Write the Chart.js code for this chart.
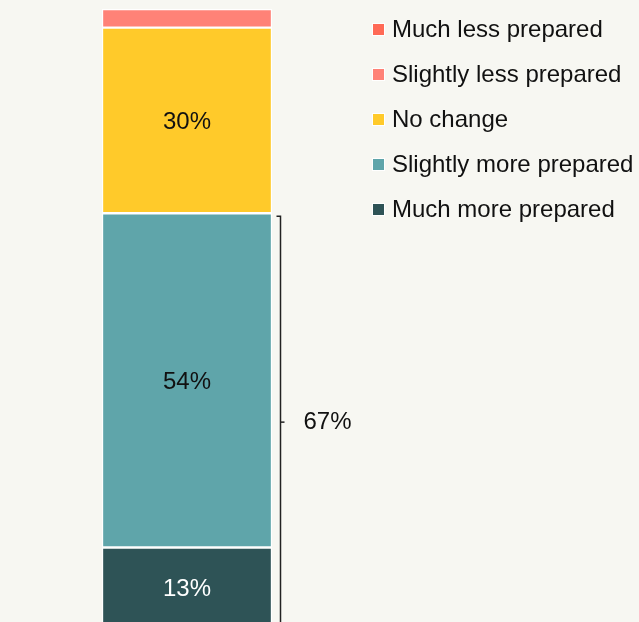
<!DOCTYPE html>
<html>
<head>
<meta charset="utf-8">
<script src="https://cdn.jsdelivr.net/npm/chart.js@4/dist/chart.umd.min.js"></script>
<style>
  html, body { margin: 0; padding: 0; background: #F7F7F2; overflow: hidden; }
  #wrap { width: 639px; height: 640px; position: relative; }
</style>
</head>
<body>
<div id="wrap"><canvas id="c" width="639" height="640"></canvas></div>
<script>
// Responses, listed in legend order (top to bottom)
const categories = [
  'Much less prepared',
  'Slightly less prepared',
  'No change',
  'Slightly more prepared',
  'Much more prepared'
];
const values = [0, 3, 30, 54, 13];
const colors = ['#FF6A56', '#FF8277', '#FFCA2A', '#5FA5AA', '#2E5356'];
const labelColors = ['#111', '#111', '#111', '#111', '#FFFFFF'];
const showValue = [false, false, true, true, true];
// Segments summed by the bracket on the right
const bracketGroup = ['Slightly more prepared', 'Much more prepared'];

const FONT = '"Liberation Sans", Arial, sans-serif';

// Stack from the bottom: last legend entry sits at the base of the bar
const order = categories.map((_, i) => i).reverse();
const datasets = order.map(i => ({
  label: categories[i],
  data: [values[i]],
  backgroundColor: colors[i],
  borderColor: '#FFFFFF',
  borderWidth: 1.5,
  borderSkipped: false,
  _valueColor: labelColors[i],
  _showValue: showValue[i]
}));

const overlay = {
  id: 'overlay',
  afterDatasetsDraw(chart) {
    const ctx = chart.ctx;
    ctx.save();
    // value labels inside segments
    ctx.font = '24px ' + FONT;
    ctx.textAlign = 'center';
    ctx.textBaseline = 'middle';
    chart.data.datasets.forEach((ds, di) => {
      if (!ds._showValue) return;
      const el = chart.getDatasetMeta(di).data[0];
      const yc = (el.y + el.base) / 2;
      ctx.fillStyle = ds._valueColor;
      ctx.fillText(ds.data[0] + '%', el.x, yc + 2);
    });

    // bracket around the grouped segments
    const metas = chart.data.datasets.map((ds, di) => ({ ds, el: chart.getDatasetMeta(di).data[0] }))
      .filter(o => bracketGroup.includes(o.ds.label));
    const top = Math.min(...metas.map(o => Math.min(o.el.y, o.el.base))) + 3;
    const bot = Math.max(...metas.map(o => Math.max(o.el.y, o.el.base)));
    const total = metas.reduce((s, o) => s + o.ds.data[0], 0);
    const bx = chart.chartArea.right + 8.5;
    ctx.strokeStyle = '#222';
    ctx.lineWidth = 1.5;
    ctx.beginPath();
    ctx.moveTo(bx - 4, top);
    ctx.lineTo(bx, top);
    ctx.lineTo(bx, bot);
    ctx.stroke();
    const mid = (top + bot) / 2;
    ctx.beginPath();
    ctx.moveTo(bx, mid);
    ctx.lineTo(bx + 4, mid);
    ctx.stroke();
    ctx.fillStyle = '#111';
    ctx.textAlign = 'left';
    ctx.font = '24px ' + FONT;
    ctx.fillText(total + '%', bx + 23, mid);

    // legend
    const lx = 373, ly0 = 29, step = 45;
    categories.forEach((name, i) => {
      const y = ly0 + i * step;
      ctx.fillStyle = '#FFFFFF';
      ctx.fillRect(lx - 1, y - 6, 13, 13);
      ctx.fillStyle = colors[i];
      ctx.fillRect(lx, y - 5, 11, 11);
      ctx.fillStyle = '#111';
      ctx.textAlign = 'left';
      ctx.fillText(name, lx + 19, y + 1);
    });
    ctx.restore();
  }
};

new Chart(document.getElementById('c'), {
  type: 'bar',
  data: { labels: [''], datasets },
  options: {
    responsive: false,
    animation: false,
    layout: { padding: { left: 102, right: 367, top: 9, bottom: 12 } },
    datasets: { bar: { barPercentage: 1, categoryPercentage: 1 } },
    scales: {
      x: { stacked: true, display: false },
      y: { stacked: true, display: false, min: 0, max: 100 }
    },
    plugins: { legend: { display: false }, tooltip: { enabled: false } }
  },
  plugins: [overlay]
});
</script>
</body>
</html>
